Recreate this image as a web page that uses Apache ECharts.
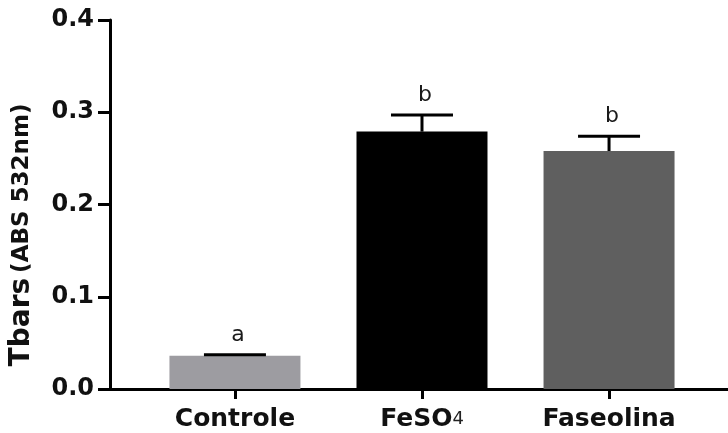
<!DOCTYPE html>
<html>
<head>
<meta charset="utf-8">
<style>
  html, body { margin: 0; padding: 0; background: #fff; }
  #chart { width: 728px; height: 433px; }
</style>
<script src="https://cdn.jsdelivr.net/npm/echarts@6/dist/echarts.min.js"></script>
</head>
<body>
<div id="chart"></div>
<script>
// Groups, means, error (SD) and significance letters
const categories = ['Controle', 'FeSO4', 'Faseolina'];
const means = [0.036, 0.279, 0.258];
const errors = [0.001, 0.018, 0.016];
const letters = ['a', 'b', 'b'];
const barColors = ['#9d9ca1', '#000000', '#5f5f5f'];
const yTicks = [0, 0.1, 0.2, 0.3, 0.4];

const FONT = 'DejaVu Sans';
const positions = categories.map((_, i) => i);

const labelRich = {
  b: { fontFamily: FONT, fontWeight: 'bold', fontSize: 25, color: '#111' },
  s: { fontFamily: FONT, fontWeight: 'normal', fontSize: 18, color: '#222' }
};

function catLabel(v) {
  const i = Math.round(v);
  if (categories[i] === 'FeSO4') return '{b|FeSO}{s|4}';
  return '{b|' + (categories[i] || '') + '}';
}

const chart = echarts.init(document.getElementById('chart'), null, { renderer: 'canvas' });

chart.setOption({
  backgroundColor: '#ffffff',
  animation: false,
  grid: { left: 110, right: 0, top: 20, bottom: 44, containLabel: false },
  xAxis: {
    type: 'value',
    min: -0.668,
    max: 2.636,
    splitLine: { show: false },
    axisLine: { show: true, onZero: false, lineStyle: { color: '#000', width: 3 } },
    axisTick: { show: true, customValues: positions, length: 10, lineStyle: { color: '#000', width: 3 } },
    axisLabel: {
      show: true,
      customValues: positions,
      margin: 18,
      formatter: catLabel,
      rich: labelRich
    }
  },
  yAxis: {
    type: 'value',
    min: yTicks[0],
    max: yTicks[yTicks.length - 1],
    interval: 0.1,
    splitLine: { show: false },
    axisLine: { show: true, onZero: false, lineStyle: { color: '#000', width: 3 } },
    axisTick: { show: true, length: 12, lineStyle: { color: '#000', width: 3 } },
    axisLabel: {
      margin: 16,
      fontFamily: FONT,
      fontWeight: 'bold',
      fontSize: 24,
      color: '#111',
      formatter: v => v.toFixed(1)
    },
    name: '{t|Tbars}{u|(ABS 532nm)}',
    nameLocation: 'middle',
    nameRotate: 90,
    nameGap: 74,
    nameTextStyle: {
      padding: [0, 61, 0, 0],
      rich: {
        t: { fontFamily: FONT, fontWeight: 'bold', fontSize: 28, color: '#111', padding: [0, 5, 0, 0] },
        u: { fontFamily: FONT, fontWeight: 'bold', fontSize: 23, color: '#111' }
      }
    }
  },
  series: [
    {
      type: 'bar',
      barWidth: 131,
      data: means.map((m, i) => ({ value: [positions[i], m], itemStyle: { color: barColors[i] } }))
    },
    {
      type: 'custom',
      z: 5,
      data: means.map((m, i) => [positions[i], m, errors[i]]),
      renderItem: function (params, api) {
        const x = api.value(0);
        const m = api.value(1);
        const e = api.value(2);
        const letter = letters[params.dataIndex];
        const base = api.coord([x, m]);
        const top = api.coord([x, m + e]);
        const capHalf = 31;
        const style = { stroke: '#000', lineWidth: 3 };
        return {
          type: 'group',
          children: [
            { type: 'line', shape: { x1: base[0], y1: base[1], x2: top[0], y2: top[1] }, style: style },
            { type: 'line', shape: { x1: top[0] - capHalf, y1: top[1], x2: top[0] + capHalf, y2: top[1] }, style: style },
            {
              type: 'text',
              x: top[0] + 3,
              y: top[1] - 9,
              style: {
                text: letter,
                fontFamily: FONT,
                fontSize: 22,
                fill: '#1a1a1a',
                align: 'center',
                verticalAlign: 'bottom'
              }
            }
          ]
        };
      }
    }
  ]
});
</script>
</body>
</html>
